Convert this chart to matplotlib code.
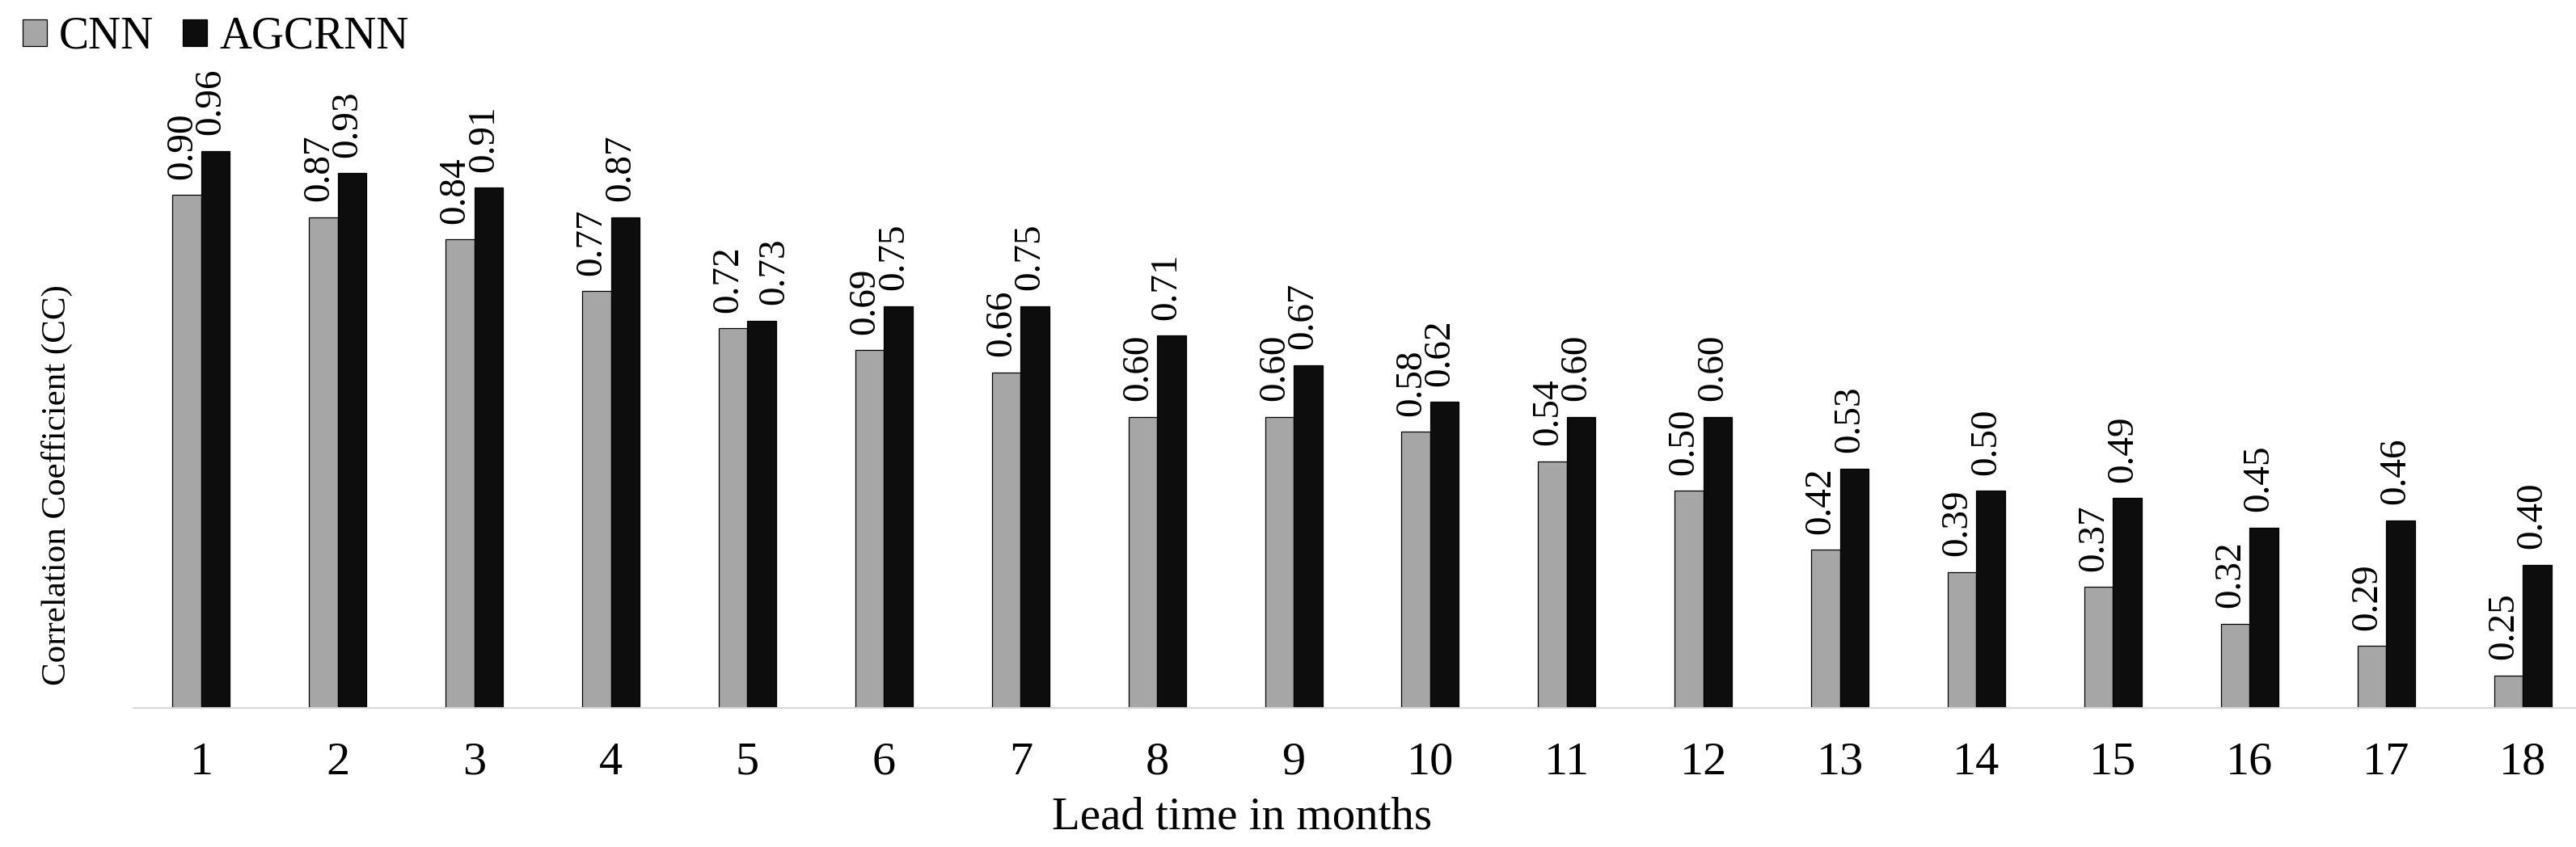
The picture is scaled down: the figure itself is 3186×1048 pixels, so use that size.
import matplotlib
matplotlib.use("Agg")
import matplotlib.pyplot as plt
import numpy as np

lead_months = ["1", "2", "3", "4", "5", "6", "7", "8", "9", "10", "11", "12", "13", "14", "15", "16", "17", "18"]
cnn = [0.90, 0.87, 0.84, 0.77, 0.72, 0.69, 0.66, 0.60, 0.60, 0.58, 0.54, 0.50, 0.42, 0.39, 0.37, 0.32, 0.29, 0.25]
agcrnn = [0.96, 0.93, 0.91, 0.87, 0.73, 0.75, 0.75, 0.71, 0.67, 0.62, 0.60, 0.60, 0.53, 0.50, 0.49, 0.45, 0.46, 0.40]
series_names = ["CNN", "AGCRNN"]

plt.rcParams['font.family'] = ['Liberation Serif', 'DejaVu Serif']

W, H = 3186, 1048
fig = plt.figure(figsize=(W / 100, H / 100), dpi=100)
left_px, right_px = 164.5, 3204.5
bottom_px, top_px = 876, 150
ax = fig.add_axes([left_px / W, 1 - bottom_px / H, (right_px - left_px) / W, (bottom_px - top_px) / H])

x = np.arange(len(lead_months))
bw = 0.21
b1 = ax.bar(x - bw / 2, cnn, bw, color='#a6a6a6', edgecolor='black', linewidth=0.9, label=series_names[0])
b2 = ax.bar(x + bw / 2, agcrnn, bw, color='#0d0d0d', edgecolor='black', linewidth=0.9, label=series_names[1])

for rect, v in zip(b1, cnn):
    ax.annotate(f"{v:.2f}", xy=(rect.get_x() + rect.get_width() / 2, v),
                xytext=(-4, 14), textcoords='offset points', rotation=90,
                ha='center', va='bottom', fontsize=34, annotation_clip=False)
for rect, v, c in zip(b2, agcrnn, cnn):
    dx = 11 if abs(v - c) < 0.03 else -4
    ax.annotate(f"{v:.2f}", xy=(rect.get_x() + rect.get_width() / 2, v),
                xytext=(dx, 14), textcoords='offset points', rotation=90,
                ha='center', va='bottom', fontsize=34, annotation_clip=False)

ax.set_xlim(-0.5, len(lead_months) - 0.5)
ax.set_ylim(0.206, 1.0)
ax.set_xticks(x)
ax.set_xticklabels(lead_months, fontsize=42)
ax.set_yticks([])
ax.tick_params(axis='x', length=0, pad=30)
for s in ('top', 'right', 'left'):
    ax.spines[s].set_visible(False)
ax.spines['bottom'].set_color('#d9d9d9')
ax.spines['bottom'].set_linewidth(1.5)

fig.text(70 / W, 1 - 600 / H, "Correlation Coefficient (CC)", rotation=90,
         ha='center', va='center', fontsize=31)
fig.text(1536 / W, 1 - 1026 / H, "Lead time in months", ha='center', va='baseline', fontsize=41)

fig.legend(handles=[b1, b2], labels=series_names, loc='upper left',
           bbox_to_anchor=(28 / W, 1 - 20 / H), ncol=2, frameon=False, fontsize=40,
           handlelength=0.54, handleheight=0.54, handletextpad=0.27, columnspacing=0.65,
           borderpad=0, borderaxespad=0)

fig.savefig("out.png", dpi=100)
